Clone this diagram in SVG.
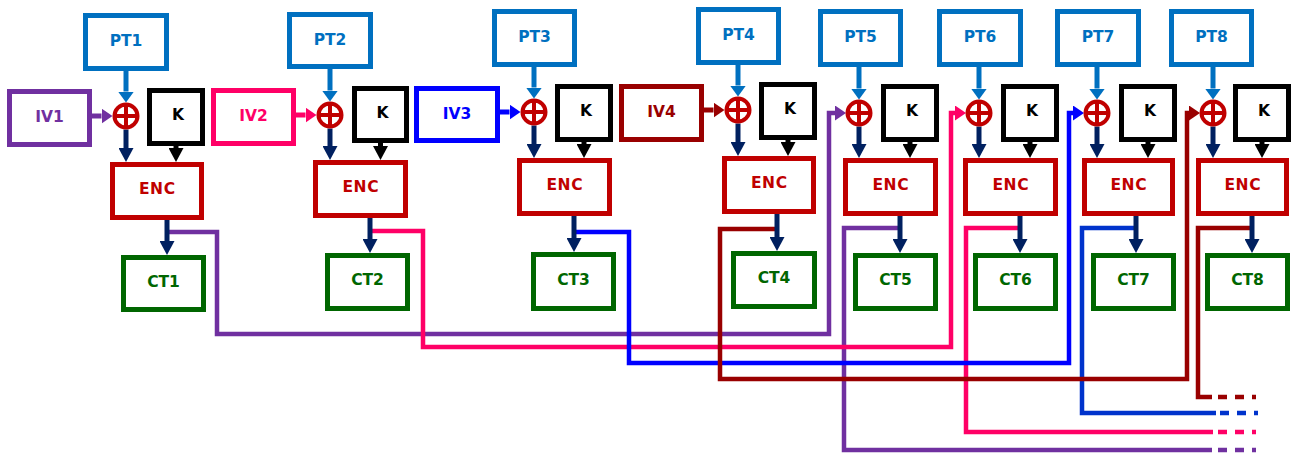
<svg xmlns="http://www.w3.org/2000/svg" width="1295" height="457" viewBox="0 0 1295 457">
<style>
.box{fill:#fff;stroke-width:5}
.pt{stroke:#0070C0}
.k{stroke:#000}
.enc{stroke:#C00000}
.ct{stroke:#006600}
text{font-family:"DejaVu Sans","Liberation Sans",sans-serif;font-weight:bold;font-size:15.5px;text-anchor:middle}
.tpt{fill:#0070C0}.tk{fill:#000}.tenc{fill:#C00000;letter-spacing:0.6px}.tct{fill:#006600}
.xor circle{fill:#fff;stroke:#C00000;stroke-width:4}
.xor path{stroke:#C00000;stroke-width:4;fill:none}
.a{fill:none;stroke-width:5}
.fb{fill:none;stroke-width:4.5;stroke-linejoin:miter}
.dash{fill:none;stroke-width:4.5;stroke-dasharray:9 8}
.purple{stroke:#7030A0}.pink{stroke:#FF0066}.blue{stroke:#0000FF}.dred{stroke:#990000}.blue2{stroke:#0033CC}
</style>
<defs>
<marker id="mPT" markerUnits="userSpaceOnUse" viewBox="0 -8 11 16" markerWidth="11" markerHeight="16" refX="0" refY="0" orient="auto"><path d="M0,-8L11,0L0,8z" fill="#0070C0"/></marker>
<marker id="mNavy" markerUnits="userSpaceOnUse" viewBox="0 -7.5 14 15" markerWidth="14" markerHeight="15" refX="0" refY="0" orient="auto"><path d="M0,-7.5L14,0L0,7.5z" fill="#002060"/></marker>
<marker id="mK" markerUnits="userSpaceOnUse" viewBox="0 -7.5 14 15" markerWidth="14" markerHeight="15" refX="0" refY="0" orient="auto"><path d="M0,-7.5L14,0L0,7.5z" fill="#000"/></marker>
<marker id="mPurple" markerUnits="userSpaceOnUse" viewBox="0 -7.5 11 15" markerWidth="11" markerHeight="15" refX="0" refY="0" orient="auto"><path d="M0,-7.5L11,0L0,7.5z" fill="#7030A0"/></marker>
<marker id="mPink" markerUnits="userSpaceOnUse" viewBox="0 -7.5 11 15" markerWidth="11" markerHeight="15" refX="0" refY="0" orient="auto"><path d="M0,-7.5L11,0L0,7.5z" fill="#FF0066"/></marker>
<marker id="mBlue" markerUnits="userSpaceOnUse" viewBox="0 -7.5 11 15" markerWidth="11" markerHeight="15" refX="0" refY="0" orient="auto"><path d="M0,-7.5L11,0L0,7.5z" fill="#0000FF"/></marker>
<marker id="mDred" markerUnits="userSpaceOnUse" viewBox="0 -7.5 11 15" markerWidth="11" markerHeight="15" refX="0" refY="0" orient="auto"><path d="M0,-7.5L11,0L0,7.5z" fill="#990000"/></marker>
</defs>

<g id="connectors">
<path class="fb purple" d="M900,228H844V450H1212"/>
<path class="dash purple" d="M1218,450H1256"/>
<path class="fb pink" d="M1020,228H966V432H1213"/>
<path class="dash pink" d="M1218,432H1256"/>
<path class="fb blue2" d="M1136,228H1082V413H1216"/>
<path class="dash blue2" d="M1220,413H1258"/>
<path class="fb dred" d="M1252,228H1198V397H1212"/>
<path class="dash dred" d="M1218,397H1256"/>
<path class="fb purple" d="M167,232H217V334H829V113H835" marker-end="url(#mPurple)"/>
<path class="fb pink" d="M370,231H423V347H951V113H955" marker-end="url(#mPink)"/>
<path class="fb blue" d="M574,232H629V363H1069V113H1073" marker-end="url(#mBlue)"/>
<path class="fb dred" d="M777,229H720V379H1187V113H1189" marker-end="url(#mDred)"/>
<path class="a pt" d="M126,71V91.5" marker-end="url(#mPT)"/>
<path class="a pt" d="M330,69V90.5" marker-end="url(#mPT)"/>
<path class="a pt" d="M534,67V87.5" marker-end="url(#mPT)"/>
<path class="a pt" d="M738,65V85.5" marker-end="url(#mPT)"/>
<path class="a pt" d="M859,67V88.5" marker-end="url(#mPT)"/>
<path class="a pt" d="M979,67V88.5" marker-end="url(#mPT)"/>
<path class="a pt" d="M1097,67V88.5" marker-end="url(#mPT)"/>
<path class="a pt" d="M1213,67V88.5" marker-end="url(#mPT)"/>
<path class="a purple" d="M92,116H101.5" marker-end="url(#mPurple)"/>
<path class="a pink" d="M296,115H305.5" marker-end="url(#mPink)"/>
<path class="a blue" d="M500,112H509.5" marker-end="url(#mBlue)"/>
<path class="a dred" d="M704,110H713.5" marker-end="url(#mDred)"/>
<path class="a" stroke="#002060" d="M126,129.5V148" marker-end="url(#mNavy)"/>
<path class="a" stroke="#002060" d="M330,128.5V146" marker-end="url(#mNavy)"/>
<path class="a" stroke="#002060" d="M534,125.5V144" marker-end="url(#mNavy)"/>
<path class="a" stroke="#002060" d="M738,123.5V142" marker-end="url(#mNavy)"/>
<path class="a" stroke="#002060" d="M859,126.5V144" marker-end="url(#mNavy)"/>
<path class="a" stroke="#002060" d="M979,126.5V144" marker-end="url(#mNavy)"/>
<path class="a" stroke="#002060" d="M1097,126.5V144" marker-end="url(#mNavy)"/>
<path class="a" stroke="#002060" d="M1213,126.5V144" marker-end="url(#mNavy)"/>
<path class="a" stroke="#000" d="M176,144V148" marker-end="url(#mK)"/>
<path class="a" stroke="#000" d="M380.5,141V146" marker-end="url(#mK)"/>
<path class="a" stroke="#000" d="M584,140V144" marker-end="url(#mK)"/>
<path class="a" stroke="#000" d="M788,138V142" marker-end="url(#mK)"/>
<path class="a" stroke="#000" d="M910,140V144" marker-end="url(#mK)"/>
<path class="a" stroke="#000" d="M1030,140V144" marker-end="url(#mK)"/>
<path class="a" stroke="#000" d="M1148,140V144" marker-end="url(#mK)"/>
<path class="a" stroke="#000" d="M1262,140V144" marker-end="url(#mK)"/>
<path class="a" stroke="#002060" d="M167,220V241" marker-end="url(#mNavy)"/>
<path class="a" stroke="#002060" d="M370,218V239" marker-end="url(#mNavy)"/>
<path class="a" stroke="#002060" d="M574,216V238" marker-end="url(#mNavy)"/>
<path class="a" stroke="#002060" d="M777,214V237" marker-end="url(#mNavy)"/>
<path class="a" stroke="#002060" d="M900,216V239" marker-end="url(#mNavy)"/>
<path class="a" stroke="#002060" d="M1020,216V239" marker-end="url(#mNavy)"/>
<path class="a" stroke="#002060" d="M1136,216V239" marker-end="url(#mNavy)"/>
<path class="a" stroke="#002060" d="M1252,216V239" marker-end="url(#mNavy)"/>
</g>

<g id="PT1"><rect class="box pt" x="85.5" y="15.5" width="81" height="53"/><text class="tpt" x="126" y="46">PT1</text></g>
<g id="IV1"><rect class="box" stroke="#7030A0" x="9.5" y="91.5" width="80" height="53"/><text fill="#7030A0" x="49.5" y="121.5">IV1</text></g>
<g id="XOR1" class="xor"><circle cx="126" cy="116" r="11.5"/><path d="M114.5,116H137.5M126,104.5V127.5"/></g>
<g id="K1"><rect class="box k" x="149.5" y="90.5" width="53" height="53"/><text class="tk" x="178" y="120">K</text></g>
<g id="ENC1"><rect class="box enc" x="112.5" y="164.5" width="89" height="53"/><text class="tenc" x="157.3" y="194">ENC</text></g>
<g id="CT1"><rect class="box ct" x="123.5" y="257.5" width="80" height="52"/><text class="tct" x="163.5" y="287">CT1</text></g>

<g id="PT2"><rect class="box pt" x="289.5" y="14.5" width="81" height="52"/><text class="tpt" x="330" y="44.5">PT2</text></g>
<g id="IV2"><rect class="box" stroke="#FF0066" x="213.5" y="90.5" width="80" height="53"/><text fill="#FF0066" x="253.5" y="120.5">IV2</text></g>
<g id="XOR2" class="xor"><circle cx="330" cy="115" r="11.5"/><path d="M318.5,115H341.5M330,103.5V126.5"/></g>
<g id="K2"><rect class="box k" x="354.5" y="88.5" width="52" height="52"/><text class="tk" x="382.5" y="118">K</text></g>
<g id="ENC2"><rect class="box enc" x="315.5" y="162.5" width="90" height="53"/><text class="tenc" x="360.8" y="192">ENC</text></g>
<g id="CT2"><rect class="box ct" x="327.5" y="255.5" width="80" height="53"/><text class="tct" x="367.5" y="285">CT2</text></g>

<g id="PT3"><rect class="box pt" x="494.5" y="11.5" width="80" height="53"/><text class="tpt" x="534.5" y="42">PT3</text></g>
<g id="IV3"><rect class="box" stroke="#0000FF" x="416.5" y="88.5" width="81" height="52"/><text fill="#0000FF" x="457" y="118.5">IV3</text></g>
<g id="XOR3" class="xor"><circle cx="534" cy="112" r="11.5"/><path d="M522.5,112H545.5M534,100.5V123.5"/></g>
<g id="K3"><rect class="box k" x="557.5" y="86.5" width="53" height="53"/><text class="tk" x="586" y="116">K</text></g>
<g id="ENC3"><rect class="box enc" x="519.5" y="160.5" width="90" height="53"/><text class="tenc" x="564.8" y="190">ENC</text></g>
<g id="CT3"><rect class="box ct" x="533.5" y="254.5" width="80" height="54"/><text class="tct" x="573.5" y="285">CT3</text></g>

<g id="PT4"><rect class="box pt" x="698.5" y="9.5" width="80" height="53"/><text class="tpt" x="738.5" y="40">PT4</text></g>
<g id="IV4"><rect class="box" stroke="#990000" x="621.5" y="86.5" width="80" height="53"/><text fill="#990000" x="661.5" y="116.5">IV4</text></g>
<g id="XOR4" class="xor"><circle cx="738" cy="110" r="11.5"/><path d="M726.5,110H749.5M738,98.5V121.5"/></g>
<g id="K4"><rect class="box k" x="761.5" y="84.5" width="53" height="53"/><text class="tk" x="790" y="114">K</text></g>
<g id="ENC4"><rect class="box enc" x="724.5" y="158.5" width="89" height="53"/><text class="tenc" x="769.3" y="188">ENC</text></g>
<g id="CT4"><rect class="box ct" x="733.5" y="253.5" width="81" height="53"/><text class="tct" x="774" y="283">CT4</text></g>

<g id="PT5"><rect class="box pt" x="820.5" y="11.5" width="80" height="53"/><text class="tpt" x="860.5" y="42">PT5</text></g>
<g id="XOR5" class="xor"><circle cx="859" cy="113" r="11.5"/><path d="M847.5,113H870.5M859,101.5V124.5"/></g>
<g id="K5"><rect class="box k" x="883.5" y="86.5" width="53" height="53"/><text class="tk" x="912" y="116">K</text></g>
<g id="ENC5"><rect class="box enc" x="845.5" y="160.5" width="90" height="53"/><text class="tenc" x="890.8" y="190">ENC</text></g>
<g id="CT5"><rect class="box ct" x="855.5" y="255.5" width="80" height="53"/><text class="tct" x="895.5" y="285">CT5</text></g>

<g id="PT6"><rect class="box pt" x="939.5" y="11.5" width="81" height="53"/><text class="tpt" x="980" y="42">PT6</text></g>
<g id="XOR6" class="xor"><circle cx="979" cy="113" r="11.5"/><path d="M967.5,113H990.5M979,101.5V124.5"/></g>
<g id="K6"><rect class="box k" x="1003.5" y="86.5" width="53" height="53"/><text class="tk" x="1032" y="116">K</text></g>
<g id="ENC6"><rect class="box enc" x="965.5" y="160.5" width="90" height="53"/><text class="tenc" x="1010.8" y="190">ENC</text></g>
<g id="CT6"><rect class="box ct" x="975.5" y="255.5" width="80" height="53"/><text class="tct" x="1015.5" y="285">CT6</text></g>

<g id="PT7"><rect class="box pt" x="1057.5" y="11.5" width="81" height="53"/><text class="tpt" x="1098" y="42">PT7</text></g>
<g id="XOR7" class="xor"><circle cx="1097" cy="113" r="11.5"/><path d="M1085.5,113H1108.5M1097,101.5V124.5"/></g>
<g id="K7"><rect class="box k" x="1121.5" y="86.5" width="53" height="53"/><text class="tk" x="1150" y="116">K</text></g>
<g id="ENC7"><rect class="box enc" x="1084.5" y="160.5" width="88" height="53"/><text class="tenc" x="1128.8" y="190">ENC</text></g>
<g id="CT7"><rect class="box ct" x="1093.5" y="255.5" width="80" height="53"/><text class="tct" x="1133.5" y="285">CT7</text></g>

<g id="PT8"><rect class="box pt" x="1171.5" y="11.5" width="80" height="53"/><text class="tpt" x="1211.5" y="42">PT8</text></g>
<g id="XOR8" class="xor"><circle cx="1213" cy="113" r="11.5"/><path d="M1201.5,113H1224.5M1213,101.5V124.5"/></g>
<g id="K8"><rect class="box k" x="1235.5" y="86.5" width="53" height="53"/><text class="tk" x="1264" y="116">K</text></g>
<g id="ENC8"><rect class="box enc" x="1198.5" y="160.5" width="88" height="53"/><text class="tenc" x="1242.8" y="190">ENC</text></g>
<g id="CT8"><rect class="box ct" x="1207.5" y="255.5" width="80" height="53"/><text class="tct" x="1247.5" y="285">CT8</text></g>
</svg>
